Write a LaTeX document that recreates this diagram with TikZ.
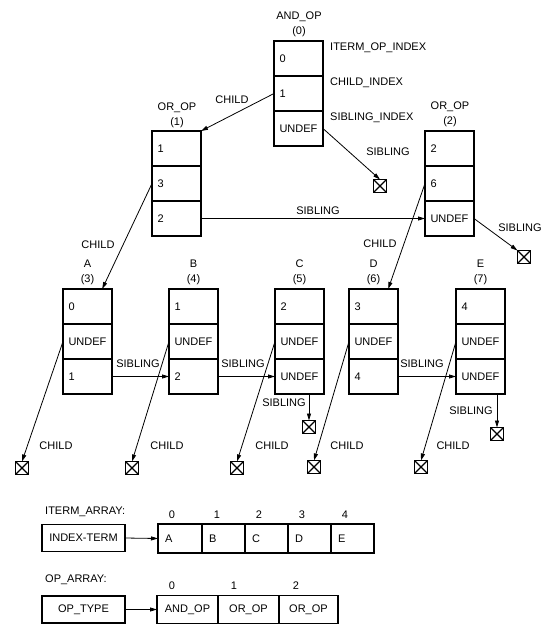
\documentclass[tikz,border=0pt]{standalone}
\usepackage{fontspec}
\setmainfont{Liberation Sans}
\usetikzlibrary{arrows.meta,calc}
\newcommand\labfont{\fontsize{11}{15}\selectfont}
\begin{document}
\begin{tikzpicture}[x=1pt,y=-1pt,
  cell/.style={draw, line width=1.3pt, minimum width=49pt, minimum height=35pt,
    text width=38pt, inner xsep=5.5pt, inner ysep=0pt, align=left, outer sep=0pt, font=\labfont},
  acell/.style={draw, line width=1.1pt, minimum width=#1, minimum height=28pt,
    inner sep=0pt, outer sep=0pt, font=\labfont, anchor=west},
  lcell/.style={draw, line width=1.1pt, minimum width=#1, minimum height=29pt,
    text width=#1-14pt, inner xsep=7pt, inner ysep=0pt, align=left, outer sep=0pt, font=\labfont, anchor=west},
  hbox/.style={draw, line width=1.1pt, minimum width=83pt, minimum height=27pt,
    inner sep=0pt, outer sep=0pt, font=\labfont},
  xbox/.style={draw, line width=1.3pt, minimum size=13pt, inner sep=0pt, outer sep=0pt,
    path picture={\draw[line width=1.3pt]
      (path picture bounding box.north west) -- (path picture bounding box.south east)
      (path picture bounding box.north east) -- (path picture bounding box.south west);}},
  lbl/.style={font=\labfont, inner sep=0pt, align=center},
  arr/.style={line width=0.8pt, -{Triangle[length=7pt,width=4pt]}},
]
\useasboundingbox (0,0) rectangle (555,630);

% ---------- AND_OP (0)
\node[cell, anchor=north west] (and1) at (274,41) {0};
\node[cell, anchor=north] (and2) at (and1.south) {1};
\node[cell, anchor=north] (and3) at (and2.south) {UNDEF};
\node[lbl] (andt) at (299,24.5) {AND\_OP\\(0)};
\node[lbl, anchor=west] (lio) at (330,48) {ITERM\_OP\_INDEX};
\node[lbl, anchor=west] (lci) at (330,83) {CHILD\_INDEX};
\node[lbl, anchor=west] (lsi) at (330,118) {SIBLING\_INDEX};

% ---------- OR_OP (1)
\node[cell, anchor=north west] (or1a) at (152,131) {1};
\node[cell, anchor=north] (or1b) at (or1a.south) {3};
\node[cell, anchor=north] (or1c) at (or1b.south) {2};
\node[lbl] (or1t) at (177,115) {OR\_OP\\(1)};

% ---------- OR_OP (2)
\node[cell, anchor=north west] (or2a) at (425,131) {2};
\node[cell, anchor=north] (or2b) at (or2a.south) {6};
\node[cell, anchor=north] (or2c) at (or2b.south) {UNDEF};
\node[lbl] (or2t) at (450,114) {OR\_OP\\(2)};

% ---------- leaves
\foreach \n/\x/\a/\c/\l/\k in {A/63/0/1/A/3, B/169/1/2/B/4, C/275/2/UNDEF/C/5, D/349/3/4/D/6, E/456/4/UNDEF/E/7}{
  \node[cell, anchor=north west] (l\n1) at (\x,289) {\a};
  \node[cell, anchor=north] (l\n2) at (l\n1.south) {UNDEF};
  \node[cell, anchor=north] (l\n3) at (l\n2.south) {\c};
  \node[lbl] (l\n t) at (\x+24.5,272.5) {\l\\(\k)};
}

% ---------- crossed boxes
\node[xbox] (x0) at (380,186) {};
\node[xbox] (x1) at (524,257) {};
\node[xbox] (xA) at (22,468) {};
\node[xbox] (xB) at (132,468) {};
\node[xbox] (xC) at (237,468) {};
\node[xbox] (xD) at (314,467) {};
\node[xbox] (xE) at (421,467) {};
\node[xbox] (xCs) at (309,427) {};
\node[xbox] (xEs) at (497,434) {};

% ---------- connectors
\draw[arr] (and2.west) -- (or1a.north east);
\node[lbl] (c0) at (232,100) {CHILD};
\draw[arr] (and3.east) -- (x0.north);
\node[lbl] (s0) at (388,152) {SIBLING};
\draw[arr] (or1c.east) -- (or2c.west);
\node[lbl] (s1) at (318,211) {SIBLING};
\draw[arr] (or2c.east) -- (x1.north west);
\node[lbl] (s2) at (520,228) {SIBLING};
\draw[arr] (or1b.west) -- (lA1.50);
\node[lbl] (c1) at (98,245) {CHILD};
\draw[arr] (or2b.west) -- (lD1.50);
\node[lbl] (c2) at (380,244) {CHILD};

\draw[arr] (lA3.east) -- (lB3.west);
\node[lbl] (s3) at (138,364) {SIBLING};
\draw[arr] (lB3.east) -- (lC3.west);
\node[lbl] (s4) at (243,364) {SIBLING};
\draw[arr] (lD3.east) -- (lE3.west);
\node[lbl] (s5) at (422,364) {SIBLING};

\draw[arr] (xCs.north |- lC3.south) -- (xCs.north);
\node[lbl] (s6) at (284,403) {SIBLING};
\draw[arr] (xEs.north |- lE3.south) -- (xEs.north);
\node[lbl] (s7) at (471,411) {SIBLING};

\draw[arr] (lA2.west) -- (xA.north);
\draw[arr] (lB2.west) -- (xB.north);
\draw[arr] (lC2.west) -- (xC.north);
\draw[arr] (lD2.west) -- (xD.north);
\draw[arr] (lE2.west) -- (xE.north);
\node[lbl] (cA) at (56,446) {CHILD};
\node[lbl] (cB) at (167,446) {CHILD};
\node[lbl] (cC) at (272,446) {CHILD};
\node[lbl] (cD) at (347,446) {CHILD};
\node[lbl] (cE) at (453,446) {CHILD};

% ---------- ITERM_ARRAY
\node[lbl, anchor=west] (ial) at (45,512) {ITERM\_ARRAY:};
\node[hbox] (idx) at (83.5,538) {INDEX-TERM};
\node[lcell=44pt] (ia0) at (158,538.5) {A};
\node[lcell=43pt] (ia1) at (ia0.east) {B};
\node[lcell=43pt] (ia2) at (ia1.east) {C};
\node[lcell=43pt] (ia3) at (ia2.east) {D};
\node[lcell=43pt] (ia4) at (ia3.east) {E};
\draw[arr] (idx.east) -- (ia0.west);
\foreach \i/\x in {0/172,1/217,2/259,3/302,4/345}{
  \node[lbl] (ii\i) at (\x,515) {\i};
}

% ---------- OP_ARRAY
\node[lbl, anchor=west] (oal) at (45,580) {OP\_ARRAY:};
\node[hbox] (opt) at (83.5,609.5) {OP\_TYPE};
\node[acell=61pt] (oa0) at (157,609.5) {AND\_OP};
\node[acell=61pt] (oa1) at (oa0.east) {OR\_OP};
\node[acell=59pt] (oa2) at (oa1.east) {OR\_OP};
\draw[arr] (opt.east) -- (oa0.west);
\foreach \i/\x in {0/172,1/234,2/296}{
  \node[lbl] (oi\i) at (\x,586) {\i};
}
\end{tikzpicture}
\end{document}
